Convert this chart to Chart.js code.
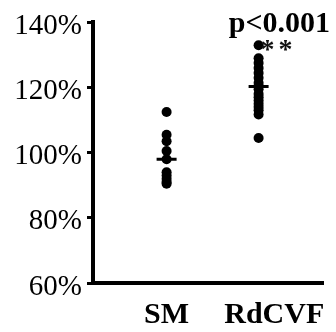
<!DOCTYPE html>
<html>
<head>
<meta charset="utf-8">
<script src="https://cdn.jsdelivr.net/npm/chart.js@4"></script>
<style>
  html, body { margin: 0; padding: 0; background: #fff; }
  #wrap { width: 336px; height: 332px; }
</style>
</head>
<body>
<div id="wrap"><canvas id="chart"></canvas></div>
<script>
  "use strict";

  const GROUPS = ["SM", "RdCVF"];
  const SM_VALUES = [112.5, 105.5, 103.5, 100.5, 98, 94, 93, 92, 91, 90.5];
  const RDCVF_VALUES = [133, 129, 127.5, 126, 124.5, 123, 121.5, 120.5, 119.5, 118, 117, 116, 115, 114, 113, 111.7, 104.5];
  const GROUP_MEANS = [98, 120.3];
  const Y_TICKS = [60, 80, 100, 120, 140];
  const P_LABEL = "p<0.001";
  const STARS = ["*", "*"];

  const SERIF = '"Liberation Serif", "Times New Roman", serif';

  function points(xValue, values) {
    return values.map(v => ({ x: xValue, y: v }));
  }

  const annotate = {
    id: "annotate",
    afterDatasetsDraw(chart) {
      const { ctx, scales: { x } } = chart;
      const px = x.getPixelForValue(2);
      ctx.save();
      ctx.fillStyle = "#000";
      ctx.textAlign = "right";
      ctx.textBaseline = "alphabetic";
      ctx.font = "bold 30px " + SERIF;
      ctx.fillText(P_LABEL, chart.width - 6, 32);
      ctx.textAlign = "center";
      ctx.font = "bold 28px " + SERIF;
      ctx.fillStyle = "#111";
      ctx.fillText(STARS[0], px + 9, 58);
      ctx.fillText(STARS[1], px + 27, 58);
      ctx.restore();
    }
  };

  new Chart(document.getElementById("chart"), {
    type: "scatter",
    data: {
      datasets: [
        { data: points(1, SM_VALUES), backgroundColor: "#000", borderWidth: 0, pointRadius: 5, pointHoverRadius: 5 },
        { data: points(2, RDCVF_VALUES), backgroundColor: "#000", borderWidth: 0, pointRadius: 5, pointHoverRadius: 5 },
        {
          data: GROUP_MEANS.map((m, i) => ({ x: i + 1, y: m })),
          pointStyle: "line", pointRadius: 10, borderColor: "#000", borderWidth: 3, backgroundColor: "#000"
        }
      ]
    },
    options: {
      responsive: true,
      maintainAspectRatio: false,
      animation: false,
      layout: { padding: { top: 22, right: 13, left: 0, bottom: 0 } },
      plugins: { legend: { display: false }, tooltip: { enabled: false } },
      scales: {
        x: {
          type: "linear",
          min: 0.2,
          max: 2.7,
          afterBuildTicks: s => { s.ticks = [{ value: 1 }, { value: 2.17 }]; },
          afterFit: s => { s.height = 49; s.paddingLeft = 0; s.paddingRight = 0; },
          grid: { display: false, drawTicks: false },
          border: { display: true, color: "#000", width: 4 },
          ticks: {
            color: "#000",
            padding: 14,
            font: { family: SERIF, size: 30, weight: "bold" },
            callback: v => (v === 1 ? GROUPS[0] : GROUPS[1])
          }
        },
        y: {
          min: 60,
          max: 140,
          afterBuildTicks: s => { s.ticks = Y_TICKS.map(v => ({ value: v })); },
          afterFit: s => { s.width = 93; },
          grid: { drawOnChartArea: false, drawTicks: true, tickLength: 6, color: "#000", lineWidth: 3 },
          border: { display: true, color: "#000", width: 4 },
          ticks: {
            color: "#000",
            padding: 5,
            labelOffset: 4,
            font: { family: SERIF, size: 29 },
            callback: v => v + "%"
          }
        }
      }
    },
    plugins: [annotate]
  });
</script>
</body>
</html>
